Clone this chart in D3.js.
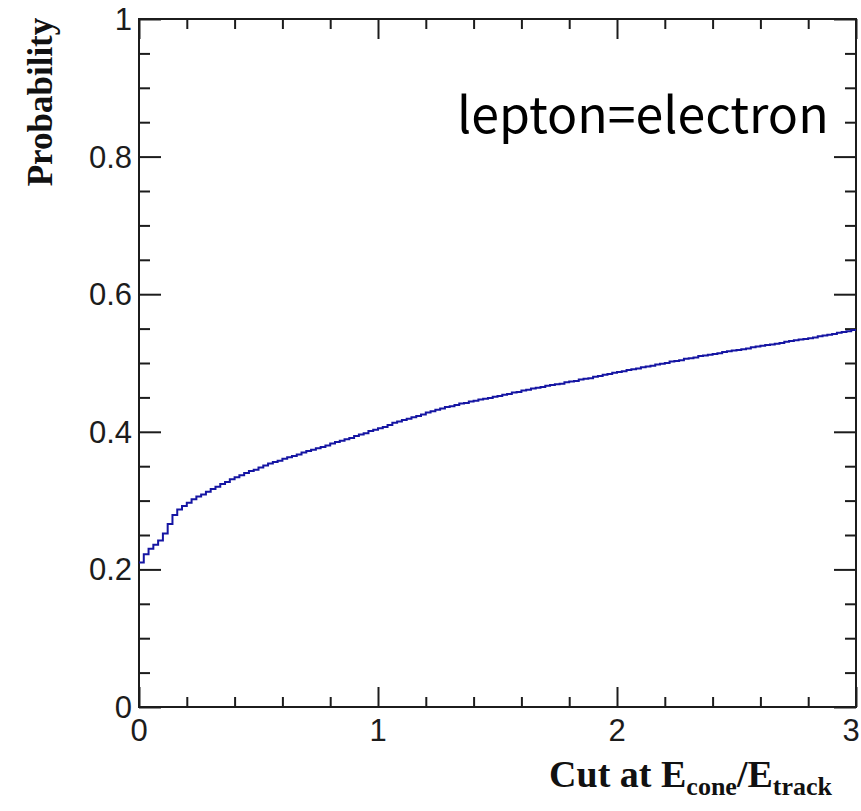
<!DOCTYPE html>
<html>
<head>
<meta charset="utf-8">
<script src="https://cdn.jsdelivr.net/npm/d3@7"></script>
<style>
  html, body { margin: 0; padding: 0; background: #fff; }
  svg { display: block; }
</style>
</head>
<body>
<svg id="chart" width="861" height="811"></svg>
<script>
// Cumulative probability vs. isolation cut, bin width 0.02 from 0 to 3
const binLow = 0;
const binWidth = 0.02;
const probability = [
  0.210, 0.222, 0.230, 0.236, 0.242, 0.252, 0.266, 0.279, 0.287, 0.292,
  0.297, 0.302, 0.306, 0.309, 0.313, 0.317, 0.320, 0.324, 0.327, 0.331,
  0.334, 0.337, 0.340, 0.343, 0.345, 0.348, 0.351, 0.354, 0.356, 0.358,
  0.361, 0.363, 0.365, 0.367, 0.370, 0.372, 0.374, 0.376, 0.378, 0.380,
  0.383, 0.385, 0.387, 0.389, 0.391, 0.394, 0.396, 0.398, 0.401, 0.403,
  0.405, 0.407, 0.410, 0.413, 0.415, 0.417, 0.419, 0.421, 0.423, 0.425,
  0.428, 0.430, 0.432, 0.434, 0.436, 0.437, 0.439, 0.441, 0.442, 0.444,
  0.445, 0.447, 0.448, 0.449, 0.451, 0.452, 0.454, 0.455, 0.457, 0.458,
  0.460, 0.461, 0.463, 0.464, 0.465, 0.467, 0.468, 0.469, 0.470, 0.472,
  0.473, 0.474, 0.476, 0.477, 0.478, 0.480, 0.481, 0.483, 0.484, 0.486,
  0.487, 0.488, 0.490, 0.491, 0.492, 0.494, 0.495, 0.496, 0.498, 0.499,
  0.500, 0.502, 0.503, 0.504, 0.506, 0.507, 0.508, 0.510, 0.511, 0.512,
  0.513, 0.514, 0.516, 0.517, 0.518, 0.519, 0.520, 0.521, 0.523, 0.524,
  0.525, 0.526, 0.527, 0.528, 0.529, 0.531, 0.532, 0.533, 0.534, 0.535,
  0.536, 0.537, 0.539, 0.540, 0.541, 0.542, 0.544, 0.545, 0.546, 0.548
];

const xMajorTicks = [0, 1, 2, 3];
const xTickLabels = ["0", "1", "2", "3"];
const yMajorTicks = [0, 0.2, 0.4, 0.6, 0.8, 1];
const yTickLabels = ["0", "0.2", "0.4", "0.6", "0.8", "1"];
const xMinorStep = 0.2;
const yMinorStep = 0.05;
const annotation = "lepton=electron";

const svg = d3.select("#chart");
const W = 861;
const frame = { left: 139, right: 856, top: 19, bottom: 707 };

const x = d3.scaleLinear().domain([0, 3]).range([frame.left, frame.right]);
const y = d3.scaleLinear().domain([0, 1]).range([frame.bottom, frame.top]);

const ink = "#1c1c1c";
const labelFont = "'Liberation Sans', Arial, Helvetica, sans-serif";
const titleFont = "'Liberation Serif', 'Times New Roman', Times, serif";

// minor tick positions
const xMinor = d3.range(0, 3 + 1e-9, xMinorStep).filter(v => !xMajorTicks.some(m => Math.abs(m - v) < 1e-6));
const yMinor = d3.range(0, 1 + 1e-9, yMinorStep).filter(v => !yMajorTicks.some(m => Math.abs(m - v) < 1e-6));

// axes on all four sides (ticks pointing inward)
function drawAxis(axis, translate, cls) {
  const g = svg.append("g").attr("class", cls).attr("transform", translate).call(axis);
  g.select(".domain").remove();
  g.selectAll("line").attr("stroke", ink).attr("stroke-width", 2);
  g.selectAll("text").remove();
  return g;
}
const majX = 20, minX = 10, majY = 22, minY = 11;
drawAxis(d3.axisBottom(x).tickValues(xMajorTicks).tickSize(-majX), `translate(0,${frame.bottom})`, "xb-major");
drawAxis(d3.axisBottom(x).tickValues(xMinor).tickSize(-minX), `translate(0,${frame.bottom})`, "xb-minor");
drawAxis(d3.axisTop(x).tickValues(xMajorTicks).tickSize(-majX), `translate(0,${frame.top})`, "xt-major");
drawAxis(d3.axisTop(x).tickValues(xMinor).tickSize(-minX), `translate(0,${frame.top})`, "xt-minor");
drawAxis(d3.axisLeft(y).tickValues(yMajorTicks).tickSize(-majY), `translate(${frame.left},0)`, "yl-major");
drawAxis(d3.axisLeft(y).tickValues(yMinor).tickSize(-minY), `translate(${frame.left},0)`, "yl-minor");
drawAxis(d3.axisRight(y).tickValues(yMajorTicks).tickSize(-majY), `translate(${frame.right},0)`, "yr-major");
drawAxis(d3.axisRight(y).tickValues(yMinor).tickSize(-minY), `translate(${frame.right},0)`, "yr-minor");

// frame
svg.append("rect")
  .attr("x", frame.left).attr("y", frame.top)
  .attr("width", frame.right - frame.left).attr("height", frame.bottom - frame.top)
  .attr("fill", "none").attr("stroke", ink).attr("stroke-width", 2);

// histogram drawn as a step line
const edges = probability.map((v, i) => [binLow + i * binWidth, v]);
edges.push([binLow + probability.length * binWidth, probability[probability.length - 1]]);
const line = d3.line()
  .x(d => x(d[0]))
  .y(d => y(d[1]))
  .curve(d3.curveStepAfter);
svg.append("path")
  .datum(edges)
  .attr("d", line)
  .attr("fill", "none")
  .attr("stroke", "#1515a3")
  .attr("stroke-width", 2);

// tick labels (the last one is kept inside the canvas)
const labelSize = 31;
svg.append("g").selectAll("text")
  .data(xMajorTicks)
  .join("text")
  .attr("x", d => Math.min(x(d), W - 10))
  .attr("y", frame.bottom + 34)
  .attr("text-anchor", "middle")
  .attr("font-family", labelFont)
  .attr("font-size", labelSize)
  .attr("fill", ink)
  .text((d, i) => xTickLabels[i]);

svg.append("g").selectAll("text")
  .data(yMajorTicks)
  .join("text")
  .attr("x", frame.left - 7)
  .attr("y", d => y(d) + 11)
  .attr("text-anchor", "end")
  .attr("font-family", labelFont)
  .attr("font-size", labelSize)
  .attr("fill", ink)
  .text((d, i) => yTickLabels[i]);

// axis titles
svg.append("text")
  .attr("transform", `translate(52,102) rotate(-90)`)
  .attr("text-anchor", "middle")
  .attr("font-family", titleFont)
  .attr("font-weight", "bold")
  .attr("font-size", 35)
  .attr("fill", "#111")
  .text("Probability");

const xt = svg.append("text")
  .attr("x", 832)
  .attr("y", 787)
  .attr("text-anchor", "end")
  .attr("font-family", titleFont)
  .attr("font-weight", "bold")
  .attr("font-size", 38)
  .attr("fill", "#111");
xt.append("tspan").text("Cut at E");
xt.append("tspan").attr("font-size", 26).attr("dy", 8).text("cone");
xt.append("tspan").attr("dy", -8).text("/E");
xt.append("tspan").attr("font-size", 26).attr("dy", 8).text("track");

// annotation
svg.append("text")
  .attr("x", 457)
  .attr("y", 133)
  .attr("font-family", "'Noto Sans CJK JP', 'Noto Sans', sans-serif")
  .attr("font-size", 50)
  .attr("fill", "#000")
  .text(annotation);
</script>
</body>
</html>
